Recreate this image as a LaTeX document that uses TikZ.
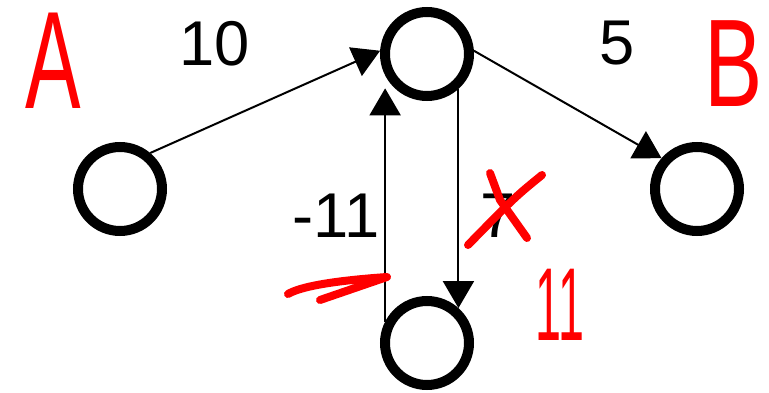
\documentclass[tikz,border=0pt]{standalone}
\usepackage{fontspec}
\setmainfont{Liberation Sans}
\usepackage{tikz}
\usetikzlibrary{arrows.meta}

\begin{document}
\begin{tikzpicture}[
    vertex/.style={circle,draw,line width=0.2cm,minimum size=1.68cm,inner sep=0pt},
    edge arrow/.style={line width=0.04cm,-{Triangle[length=0.54cm,width=0.62cm]}},
    weight/.style={font=\fontsize{36}{42}\selectfont},
    hand/.style={red,inner sep=0pt},
    scribble/.style={red,line width=0.16cm,line cap=round,line join=round}
  ]
\useasboundingbox (0,0) rectangle (15.38,7.84);
\node[vertex] (a) at (2.40,4.06) {};
\node[vertex] (top) at (8.54,6.76) {};
\node[vertex] (b) at (13.94,4.06) {};
\node[vertex] (bot) at (8.54,0.98) {};

\draw[edge arrow] (a.50) -- (top.176);
\draw[edge arrow] (top.4) -- (b.139);
\draw[edge arrow,shorten >=0.26cm] (bot.153) -- (top.207);
\draw[edge arrow] (top.312) -- (bot.48);

\node[weight] (w10) at (4.30,6.96) {10};
\node[weight] (w5) at (12.34,6.98) {5};
\node[weight] (w11) at (6.72,3.52) {-11};
\node[weight] (w7) at (9.96,3.52) {7};

% pen marks
\node[hand,font=\fontsize{79}{90}\selectfont,xscale=0.6,transform shape] (la) at (1.06,6.62) {A};
\node[hand,font=\fontsize{71}{80}\selectfont,xscale=0.7,transform shape] (lb) at (14.68,6.56) {B};
\node[hand,font=\fontsize{59}{70}\selectfont,xscale=0.45,transform shape] (l11) at (11.20,1.74) {11};
\draw[scribble] (9.80,4.38) .. controls (9.90,4.10) .. (10.00,3.84) -- (10.54,3.08);
\draw[scribble] (10.84,4.34) .. controls (10.30,3.90) .. (9.36,2.94);
\draw[scribble] (5.76,1.96) .. controls (6.00,2.10) and (6.60,2.22) .. (7.74,2.30) -- (6.40,1.84);
\end{tikzpicture}
\end{document}
